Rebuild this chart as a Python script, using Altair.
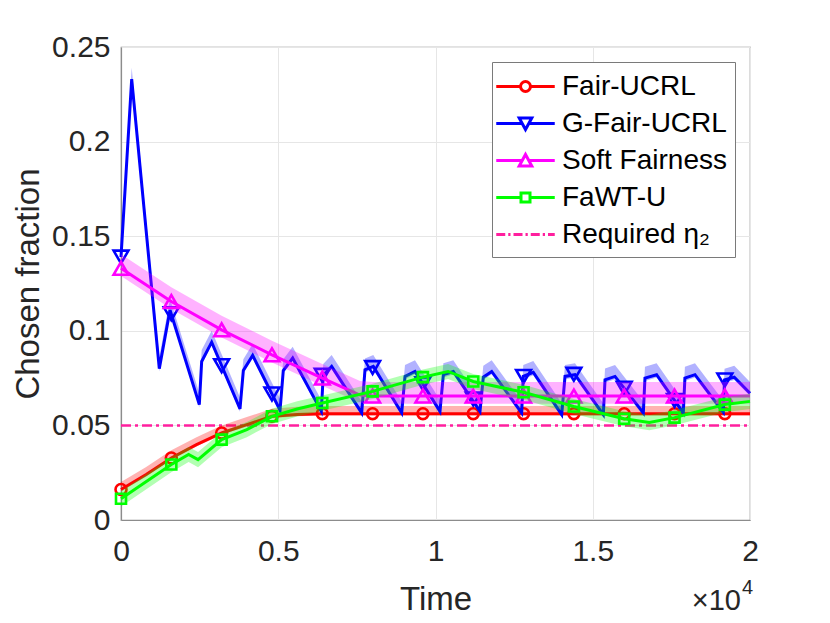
import altair as alt
import pandas as pd

FONT = "Liberation Sans"

SERIES = ["Fair-UCRL", "G-Fair-UCRL", "Soft Fairness", "FaWT-U", "Required η₂"]
COLORS = ["#ff0000", "#0000ff", "#ff00ff", "#00ff00", "#ff1f9e"]

X_TICKS = [0, 5000, 10000, 15000, 20000]
Y_TICKS = [0, 0.05, 0.1, 0.15, 0.2, 0.25]

MARK_T = [0, 1600, 3200, 4800, 6400, 8000, 9600, 11200, 12800, 14400, 16000, 17600, 19200]

# Fair-UCRL
red_t = [0, 800, 1600, 2400, 3200, 4000, 4800, 5600, 6400, 20000]
red_v = [0.0161, 0.0240, 0.0328, 0.0398, 0.0460, 0.0504, 0.0548, 0.0558, 0.0562, 0.0562]
red_m = [0.0161, 0.0328, 0.0460, 0.0548, 0.0562, 0.0562, 0.0562, 0.0562, 0.0562, 0.0562, 0.0562, 0.0562, 0.0562]
red_band = [-0.001, 0.004]

# G-Fair-UCRL
blue_t = [0, 340, 1218, 1558, 2490, 2565, 2883, 3784, 3890, 4187, 5057, 5160, 5459,
          6370, 6430, 6698, 7653, 7758, 8022, 8925, 9030, 9348, 10143, 10250, 10566,
          11415, 11520, 11787, 12740, 12790, 13110, 14013, 14118, 14435, 15336, 15390,
          15708, 16608, 16660, 17030, 17879, 17930, 18251, 19151, 19190, 19500, 20000]
blue_v = [0.139, 0.233, 0.080, 0.111, 0.061, 0.0838, 0.094, 0.0587, 0.079, 0.087, 0.058, 0.079, 0.0856,
          0.0574, 0.0765, 0.0812, 0.0566, 0.0794, 0.0812, 0.0566, 0.0759, 0.0785, 0.0574, 0.0768, 0.0785,
          0.0574, 0.0755, 0.0785, 0.0566, 0.0759, 0.0780, 0.0557, 0.0759, 0.0768, 0.0557, 0.0741,
          0.0759, 0.0566, 0.0750, 0.0768, 0.0566, 0.0750, 0.0768, 0.0570, 0.0740, 0.0755, 0.0670]
blue_m = [0.139, 0.109, 0.0816, 0.0666, 0.0765, 0.0806, 0.0720, 0.0640, 0.0759, 0.0770, 0.0696, 0.0632, 0.0740]
blue_band = [-0.0015, 0.006]

# Soft Fairness
pink_t = [0, 1600, 3200, 4800, 6400, 7600, 8000, 20000]
pink_v = [0.133, 0.1155, 0.1005, 0.0873, 0.0750, 0.0660, 0.0655, 0.0655]
pink_m = [0.133, 0.1155, 0.1005, 0.0873, 0.0750, 0.0655, 0.0655, 0.0655, 0.0655, 0.0655, 0.0655, 0.0655, 0.0655]
pink_band = [-0.004, 0.0075]

# FaWT-U
green_t = [0, 1600, 2150, 2450, 3200, 4000, 4800, 5600, 6400, 8000, 9600, 10400, 11200,
           12800, 14400, 16000, 16800, 17600, 19200, 20000]
green_v = [0.0112, 0.0293, 0.0346, 0.0319, 0.0425, 0.0478, 0.0548, 0.0587, 0.0618, 0.0680, 0.0755,
           0.0785, 0.0732, 0.0675, 0.0600, 0.0535, 0.0515, 0.0541, 0.0610, 0.0627]
green_m = [0.0112, 0.0293, 0.0425, 0.0548, 0.0618, 0.0680, 0.0755, 0.0732, 0.0675, 0.0600, 0.0535, 0.0541, 0.0610]
green_band = [-0.004, 0.004]

# Required eta_2
eta_t = [0, 20000]
eta_v = [0.05, 0.05]

# legend symbols: line with marker (unit = sqrt(symbolSize)/2 px)
LEG_PATHS = [
    "M-1.95,0H-0.33M0.33,0H1.95M0.33,0A0.33,0.33 0 1,1 -0.33,0A0.33,0.33 0 1,1 0.33,0",
    "M-1.95,0H-0.22M0.22,0H1.95M-0.42,-0.37H0.42L0,0.4Z",
    "M-1.95,0H-0.22M0.22,0H1.95M-0.42,0.37H0.42L0,-0.4Z",
    "M-1.95,0H-0.3M0.3,0H1.95M-0.3,-0.3H0.3V0.3H-0.3Z",
    "M-1.95,0H-1.35M-1.15,0H-1.0M-0.8,0H-0.2M0,0H0.15M0.35,0H0.95M1.15,0H1.3M1.5,0H1.95",
]


def X():
    return alt.X("t:Q",
                 scale=alt.Scale(domain=[0, 20000], nice=False, zero=False),
                 axis=alt.Axis(values=X_TICKS, labelExpr="datum.value / 10000", title="Time",
                               ticks=False, labelPadding=16, titlePadding=17,
                               labelFlush=False, labelOverlap=False))


def Y(field="v"):
    return alt.Y(f"{field}:Q",
                 scale=alt.Scale(domain=[0, 0.25], nice=False),
                 axis=alt.Axis(values=Y_TICKS, format="~g", title="Chosen fraction",
                               ticks=False, labelPadding=11, titlePadding=6,
                               labelOverlap=False))


def series_layers(t, v, m, band, color, shape, msize):
    df = pd.DataFrame({"t": t, "v": v})
    df["lo"] = df["v"] + band[0]
    df["hi"] = df["v"] + band[1]
    mdf = pd.DataFrame({"t": MARK_T, "v": m})
    area = alt.Chart(df).mark_area(color=color, opacity=0.3).encode(
        x=X(), y=Y("lo"), y2="hi:Q")
    line = alt.Chart(df).mark_line(color=color, strokeWidth=3).encode(x=X(), y=Y("v"))
    pts = alt.Chart(mdf).mark_point(shape=shape, color=color, filled=False, size=msize,
                                    strokeWidth=2.6, opacity=1).encode(x=X(), y=Y("v"))
    return [area, line, pts]


eta_df = pd.DataFrame({"t": eta_t, "v": eta_v})
eta = alt.Chart(eta_df).mark_line(color=COLORS[4], strokeWidth=2.5,
                                  strokeDash=[10, 4, 3, 4]).encode(x=X(), y=Y("v"))

red = series_layers(red_t, red_v, red_m, red_band, COLORS[0], "circle", 120)
blue = series_layers(blue_t, blue_v, blue_m, blue_band, COLORS[1], "triangle-down", 220)
pink = series_layers(pink_t, pink_v, pink_m, pink_band, COLORS[2], "triangle-up", 220)
green = series_layers(green_t, green_v, green_m, green_band, COLORS[3], "square", 100)

legend = alt.Legend(title=None, orient="none", legendX=371, legendY=15,
                    padding=8, rowPadding=6, symbolSize=900, symbolStrokeWidth=3,
                    symbolOffset=9, labelOffset=20, symbolOpacity=1, labelLimit=0,
                    symbolFillColor="transparent",
                    labelFont=FONT, labelFontSize=28, labelColor="#000000",
                    fillColor="#ffffff", strokeColor="#7a7a7a", cornerRadius=0)

leg_df = pd.DataFrame({"series": SERIES, "t": [0] * 5, "v": [0] * 5})
leg = alt.Chart(leg_df).mark_point(opacity=0, filled=False).encode(
    x=X(), y=Y("v"),
    color=alt.Color("series:N", scale=alt.Scale(domain=SERIES, range=COLORS), legend=legend),
    shape=alt.Shape("series:N", scale=alt.Scale(domain=SERIES, range=LEG_PATHS), legend=legend),
)

exp_df = pd.DataFrame({"base": ["×10"], "power": ["4"]})
exp_base = alt.Chart(exp_df).mark_text(font=FONT, fontSize=29, color="#262626",
                                       align="right", baseline="alphabetic").encode(
    x=alt.value(620), y=alt.value(563), text="base:N")
exp_pow = alt.Chart(exp_df).mark_text(font=FONT, fontSize=20, color="#262626",
                                      align="left", baseline="alphabetic").encode(
    x=alt.value(621), y=alt.value(547), text="power:N")

chart = alt.layer(eta, *red, *blue, *pink, *green, leg, exp_base, exp_pow).properties(
    width=629, height=473,
    padding={"left": 113, "top": 39, "right": 72, "bottom": 100},
    autosize=alt.AutoSizeParams(type="none"),
).configure_view(
    stroke="#8c8c8c", strokeWidth=1.2
).configure_axis(
    domainColor="#8c8c8c", domainWidth=1.2, gridColor="#e6e6e6",
    labelFont=FONT, labelFontSize=30, labelColor="#262626",
    titleFont=FONT, titleFontSize=33, titleFontWeight="normal", titleColor="#262626",
)

chart.save("out.html", embed_options={"renderer": "svg", "actions": False})
